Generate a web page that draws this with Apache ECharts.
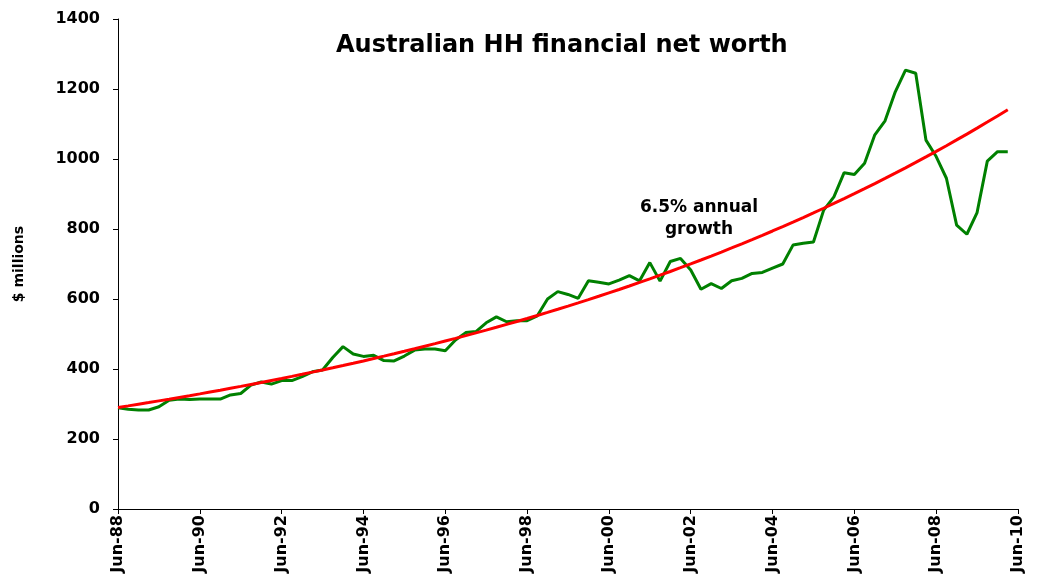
<!DOCTYPE html>
<html>
<head>
<meta charset="utf-8">
<script src="https://cdn.jsdelivr.net/npm/echarts@6/dist/echarts.min.js"></script>
<style>
  html, body { margin: 0; padding: 0; background: #fff; }
  #chart { width: 1044px; height: 578px; }
</style>
</head>
<body>
<div id="chart"></div>
<script>
// quarterly categories Jun-88 .. Jun-10
const months = ['Jun', 'Sep', 'Dec', 'Mar']
const categories = []
for (let i = 0; i <= 88; i++) {
  const m = months[i % 4]
  const yr = 88 + Math.floor((i + 2) / 4)
  categories.push(m + '-' + String(yr % 100).padStart(2, '0'))
}

// household financial net worth ($ millions)
const netWorth = [
  289, 285, 283, 283, 292, 311, 314, 313, 314, 314,
  314, 326, 330, 354, 363, 357, 367, 367, 378, 392,
  397, 433, 464, 443, 436, 439, 424, 423, 437, 454,
  457, 457, 452, 483, 504, 507, 532, 549, 535, 538,
  538, 552, 600, 621, 613, 602, 652, 648, 643, 654,
  667, 652, 704, 651, 707, 716, 683, 628, 644, 630,
  652, 659, 673, 676, 688, 700, 754, 759, 763, 854,
  892, 961, 956, 988, 1069, 1109, 1192, 1254, 1245, 1054,
  1007, 945, 811, 785, 847, 994, 1021, 1021
]

// 6.5% annual growth trend line
const trend = [
  290.0, 294.6, 299.3, 304.0, 308.9, 313.8, 318.8, 323.8, 328.9, 334.2,
  339.5, 344.9, 350.3, 355.9, 361.5, 367.3, 373.1, 379.0, 385.0, 391.1,
  397.3, 403.6, 410.0, 416.5, 423.1, 429.9, 436.7, 443.6, 450.6, 457.8,
  465.1, 472.4, 480.0, 487.6, 495.3, 503.2, 511.2, 519.3, 527.5, 535.9,
  544.4, 553.0, 561.8, 570.7, 579.8, 589.0, 598.3, 607.8, 617.5, 627.2,
  637.2, 647.3, 657.6, 668.0, 678.6, 689.4, 700.3, 711.4, 722.7, 734.2,
  745.8, 757.6, 769.7, 781.9, 794.3, 806.9, 819.7, 832.7, 845.9, 859.3,
  873.0, 886.8, 900.9, 915.2, 929.7, 944.5, 959.5, 974.7, 990.2, 1005.9,
  1021.8, 1038.0, 1054.5, 1071.2, 1088.2, 1105.5, 1123.0, 1140.8
]

const boldFont = 'DejaVu Sans'

const chart = echarts.init(document.getElementById('chart'), null, { renderer: 'canvas' })

chart.setOption({
  animation: false,
  backgroundColor: '#fff',
  title: {
    text: 'Australian HH financial net worth',
    left: 331,
    top: 29,
    textStyle: { fontFamily: boldFont, fontWeight: 'bold', fontSize: 24, color: '#000' }
  },
  grid: { left: 118, right: 26, top: 19, bottom: 69 },
  xAxis: {
    type: 'category',
    data: categories,
    boundaryGap: false,
    axisLine: { lineStyle: { color: '#000', width: 1 } },
    axisTick: { show: true, interval: 7, length: 5, lineStyle: { color: '#000' } },
    axisLabel: {
      interval: 7,
      rotate: 90,
      margin: 6,
      color: '#000',
      fontFamily: boldFont,
      fontWeight: 'bold',
      fontSize: 16
    },
    splitLine: { show: false }
  },
  yAxis: {
    type: 'value',
    min: 0,
    max: 1400,
    interval: 200,
    name: '$ millions',
    nameLocation: 'middle',
    nameRotate: 90,
    nameGap: 92,
    nameTextStyle: { fontFamily: boldFont, fontWeight: 'bold', fontSize: 14, color: '#000' },
    axisLine: { show: true, lineStyle: { color: '#000', width: 1 } },
    axisTick: { show: true, length: 5, lineStyle: { color: '#000' } },
    axisLabel: {
      margin: 18,
      color: '#000',
      fontFamily: boldFont,
      fontWeight: 'bold',
      fontSize: 16,
      formatter: (v) => String(v)
    },
    splitLine: { show: false }
  },
  graphic: [
    {
      type: 'text',
      x: 699,
      y: 219,
      style: {
        text: '6.5% annual\ngrowth',
        fill: '#000',
        font: 'bold 17px "DejaVu Sans"',
        align: 'center',
        verticalAlign: 'middle',
        lineHeight: 22
      }
    }
  ],
  series: [
    {
      name: 'Net worth',
      type: 'line',
      data: netWorth,
      showSymbol: false,
      lineStyle: { color: '#008000', width: 3 },
      itemStyle: { color: '#008000' }
    },
    {
      name: '6.5% annual growth',
      type: 'line',
      data: trend,
      showSymbol: false,
      lineStyle: { color: '#ff0000', width: 3 },
      itemStyle: { color: '#ff0000' }
    }
  ]
})
</script>
</body>
</html>
